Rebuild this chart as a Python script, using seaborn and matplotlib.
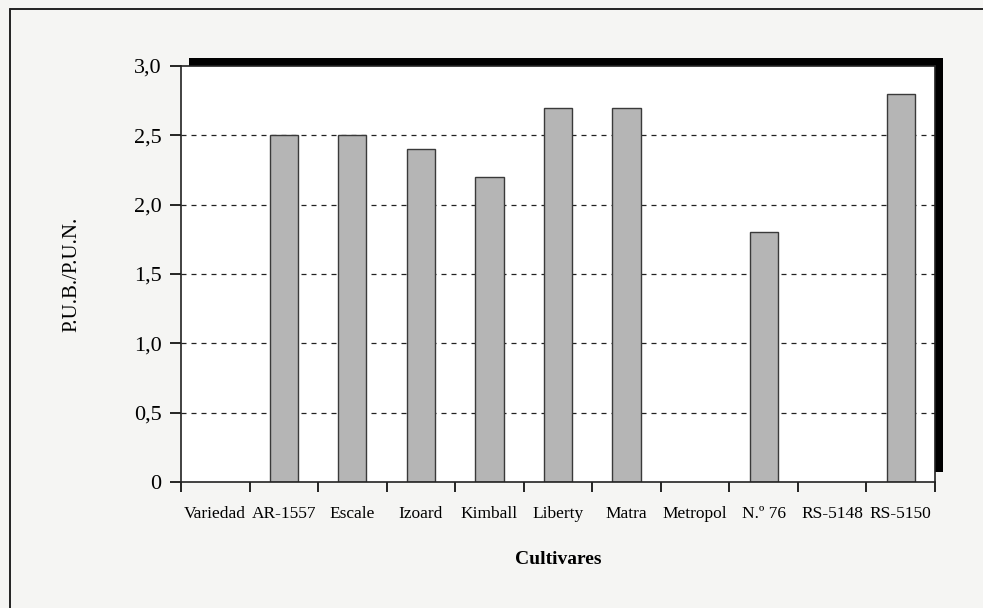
import numpy as np
import pandas as pd
import matplotlib
matplotlib.use('Agg')
import matplotlib.pyplot as plt
from matplotlib.patches import Rectangle
from matplotlib.lines import Line2D
import seaborn as sns

sns.set_style('ticks')
plt.rcParams['font.family'] = ['Liberation Serif', 'DejaVu Serif']
plt.rcParams['text.color'] = 'black'
plt.rcParams['axes.labelcolor'] = 'black'
plt.rcParams['xtick.color'] = 'black'
plt.rcParams['ytick.color'] = 'black'

# Data (empty categories have no bar)
cultivares = ['Variedad', 'AR-1557', 'Escale', 'Izoard', 'Kimball', 'Liberty',
              'Matra', 'Metropol', 'N.º 76', 'RS-5148', 'RS-5150']
valores = [np.nan, 2.5, 2.5, 2.4, 2.2, 2.7, 2.7, np.nan, 1.8, np.nan, 2.8]
y_ticks = [0, 0.5, 1.0, 1.5, 2.0, 2.5, 3.0]
y_labels = ['0', '0,5', '1,0', '1,5', '2,0', '2,5', '3,0']

df = pd.DataFrame({'cultivar': cultivares, 'pub_pun': valores}).dropna()

W, H = 983, 608
fig = plt.figure(figsize=(W / 100, H / 100), dpi=100)
fig.patch.set_facecolor('#f5f5f3')

# axes box in pixels: left 181, right 935, top 66, bottom 482
l, r, t, b = 181, 935, 66, 482
ax = fig.add_axes([l / W, 1 - b / H, (r - l) / W, (b - t) / H])
ax.set_facecolor('white')

# drop shadow (up and right)
off = 8
fig.add_artist(Rectangle(((l + off) / W, 1 - (b - 10) / H), (r - l) / W, (b - 10 - t + off) / H,
                         transform=fig.transFigure, facecolor='black', edgecolor='none', zorder=-1))

# outer frame
fig.add_artist(Line2D([10 / W, 10 / W], [0, 1 - 9 / H], transform=fig.transFigure, color='#222222', lw=1.4))
fig.add_artist(Line2D([10 / W, 1], [1 - 9 / H, 1 - 9 / H], transform=fig.transFigure, color='#222222', lw=1.4))

sns.barplot(data=df, x='cultivar', y='pub_pun', order=cultivares, color='#b5b5b5',
            edgecolor='#3a3a3a', linewidth=1.0, width=0.41, errorbar=None, saturation=1, ax=ax)

ax.set_xlim(-0.5, len(cultivares) - 0.5)
ax.set_ylim(0, 3.0)
ax.set_yticks(y_ticks)
ax.set_yticklabels(y_labels, fontsize=16)
for yv in y_ticks[1:-1]:
    ax.axhline(yv, color='#222222', lw=0.9, ls=(0, (4, 4)), zorder=0.5)

ax.set_xticks(range(len(cultivares)))
ax.set_xticklabels(cultivares, fontsize=12.5)
ax.set_xticks(np.arange(-0.5, len(cultivares)), minor=True)
ax.tick_params(axis='x', which='major', length=0, pad=17)
ax.tick_params(axis='x', which='minor', length=7, width=1.2, direction='out')
ax.tick_params(axis='y', length=8, width=1.2, direction='out', pad=6)

for s in ax.spines.values():
    s.set_linewidth(1.2)
    s.set_color('#222222')

ax.set_xlabel('Cultivares', fontsize=14, fontweight='bold', labelpad=21)
ax.set_ylabel('P.U.B./P.U.N.', fontsize=15, labelpad=38)

fig.savefig('out.png', dpi=100, facecolor=fig.get_facecolor())
